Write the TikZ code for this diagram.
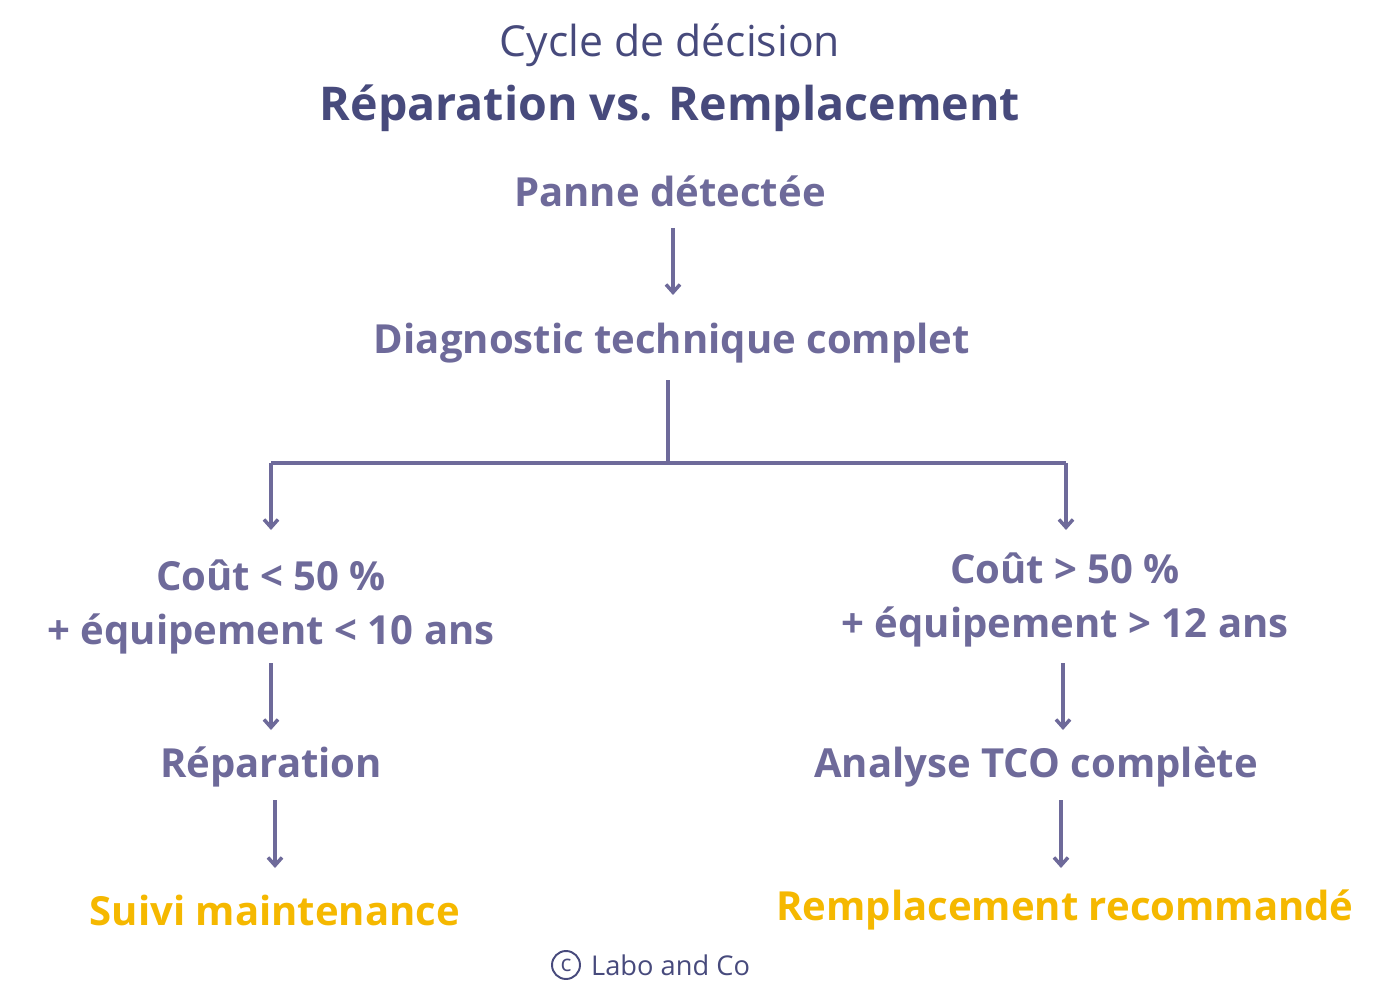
\documentclass[tikz,border=0pt]{standalone}
\usepackage{fontspec}
\setmainfont{Open Sans}
\usetikzlibrary{arrows.meta}
\definecolor{titleblue}{HTML}{474A7C}
\definecolor{stepgray}{HTML}{6E6A9A}
\definecolor{goldout}{HTML}{F5B800}
\begin{document}
\begin{tikzpicture}[x=0.02cm, y=-0.02cm,
    stage/.style={text=stepgray, font=\fontsize{22.8}{31}\selectfont\bfseries, align=center, inner sep=2pt},
    result/.style={stage, text=goldout},
    arrow/.style={-{Straight Barb[length=4.5pt,width=8pt]}, stepgray, line width=2pt}
  ]
  \useasboundingbox (0,0) rectangle (1400,1000);
  % Titles
  \node[text=titleblue, font=\fontsize{24.3}{28}\selectfont] (cycle) at (670,45) {Cycle de décision};
  \node[text=titleblue, font=\fontsize{26.5}{30}\selectfont\bfseries] (title) at (670,108) {Réparation vs. Remplacement};

  % Stages
  \node[stage] (panne) at (670,191) {Panne détectée};
  \node[stage] (diag) at (672,343) {Diagnostic technique complet};
  \node[stage] (condleft) at (271,607) {Coût < 50 \%\\+ équipement < 10 ans};
  \node[stage] (condright) at (1065,600) {Coût > 50 \%\\+ équipement > 12 ans};
  \node[stage] (repar) at (271,767) {Réparation};
  \node[stage] (tco) at (1036,767) {Analyse TCO complète};
  \node[result] (suivi) at (275,910) {Suivi maintenance};
  \node[result] (rempl) at (1065,910) {Remplacement recommandé};

  % Branches
  \coordinate (split) at (668,463);
  \coordinate (splitleft) at (271,463);
  \coordinate (splitright) at (1066,463);
  \coordinate (leftend) at (271,530);
  \coordinate (rightend) at (1066,530);

  % Transitions
  \draw[arrow] (673,228) -- (673,295);
  \draw[stepgray, line width=2pt] (668,380) -- (split);
  \draw[stepgray, line width=2pt] (splitleft) -- (splitright);
  \draw[arrow] (splitleft) -- (leftend);
  \draw[arrow] (splitright) -- (rightend);
  \draw[arrow] (271,663) -- (271,730);
  \draw[arrow] (1063,663) -- (1063,730);
  \draw[arrow] (275,800) -- (275,868);
  \draw[arrow] (1061,800) -- (1061,868);

  % Footer
  \node[circle, draw=titleblue, line width=1.1pt, inner sep=0pt, minimum size=0.56cm, text=titleblue, font=\fontsize{13}{14}\selectfont] (copy) at (566,965) {c};
  \node[text=titleblue, font=\fontsize{15.5}{18}\selectfont, anchor=west] (labo) at (585,965) {Labo and Co};
\end{tikzpicture}
\end{document}
